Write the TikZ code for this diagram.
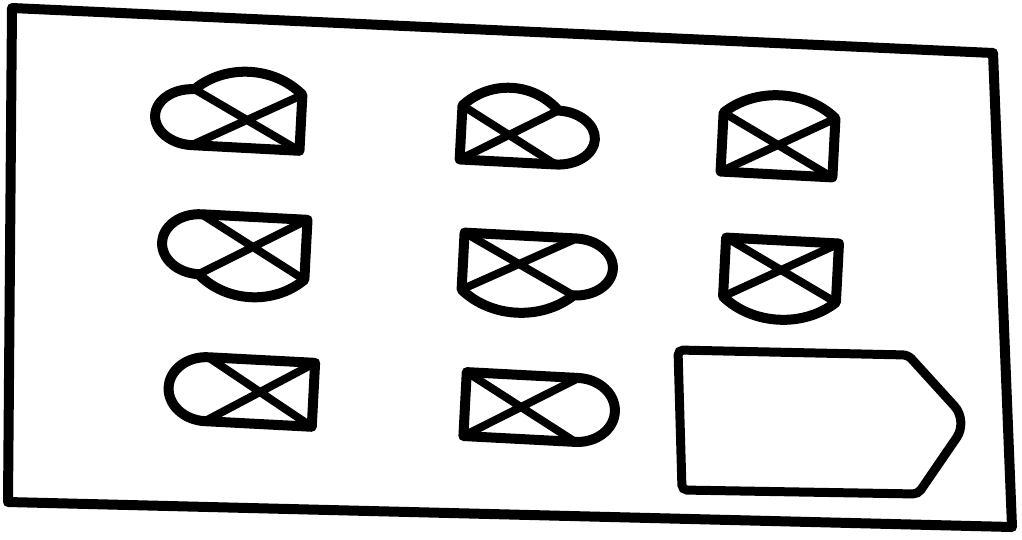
\documentclass[tikz,border=0pt]{standalone}
\usepackage{tikz}

% sides of one symbol, in pixels round its centre (y runs down)
\def\topflat{-- (\hw,-\hh)}
\def\toparc{.. controls (-0.45*\hw,-\hh-27) and (0.45*\hw,-\hh-27) .. (\hw,-\hh)}
\def\rightflat{-- (\hw,\hh)}
\def\rightarc{arc[start angle=-90, end angle=90, x radius=38, y radius=\hh]}
\def\botflat{-- (-\hw,\hh)}
\def\botarc{.. controls (0.45*\hw,\hh+27) and (-0.45*\hw,\hh+27) .. (-\hw,\hh)}
\def\leftflat{-- cycle}
\def\leftarc{arc[start angle=90, end angle=270, x radius=38, y radius=\hh]}

% #1 centre, #2 width, #3 height, #4-#7 top, right, bottom, left side
\newcommand\symb[7]{%
  \begin{scope}[shift={#1}, rotate=-3]
    \pgfmathsetmacro\hw{#2/2}
    \pgfmathsetmacro\hh{#3/2}
    \draw[outline] (-\hw,-\hh) #4 #5 #6 #7;
    \draw[cross] (-\hw,-\hh) -- (\hw,\hh) (-\hw,\hh) -- (\hw,-\hh);
  \end{scope}}

\begin{document}
\begin{tikzpicture}[
x=0.1mm, y=-0.1mm,
frame/.style={line width=1mm, line join=round},
outline/.style={line width=1mm, line join=round, line cap=round},
cross/.style={line width=0.8mm, line cap=round},
tagbox/.style={line width=0.9mm, rounded corners=0.5mm}
]
\useasboundingbox (0,0) rectangle (1022,539);
\draw[frame] (12,8) -- (993,53) -- (1012,527) -- (8,502) -- cycle;

% row 1
\symb{(247,120)}{108}{56}{\toparc}{\rightflat}{\botflat}{\leftarc}
\symb{(509,135)}{96}{54}{\toparc}{\rightarc}{\botflat}{\leftflat}
\symb{(778,145)}{112}{59}{\toparc}{\rightflat}{\botflat}{\leftflat}
% row 2
\symb{(253,247)}{106}{60}{\topflat}{\rightflat}{\botarc}{\leftarc}
\symb{(519,264)}{112}{57}{\topflat}{\rightarc}{\botarc}{\leftflat}
\symb{(781,270)}{113}{59}{\topflat}{\rightflat}{\botarc}{\leftflat}
% row 3
\symb{(260,392)}{107}{64}{\topflat}{\rightflat}{\botflat}{\leftarc}
\symb{(521,407)}{112}{64}{\topflat}{\rightarc}{\botflat}{\leftflat}

\draw[tagbox] (678,350) -- (908,355) [rounded corners=2mm] -- (968,421)
  [rounded corners=0.5mm] -- (918,494) -- (682,490) -- cycle;
\end{tikzpicture}
\end{document}
